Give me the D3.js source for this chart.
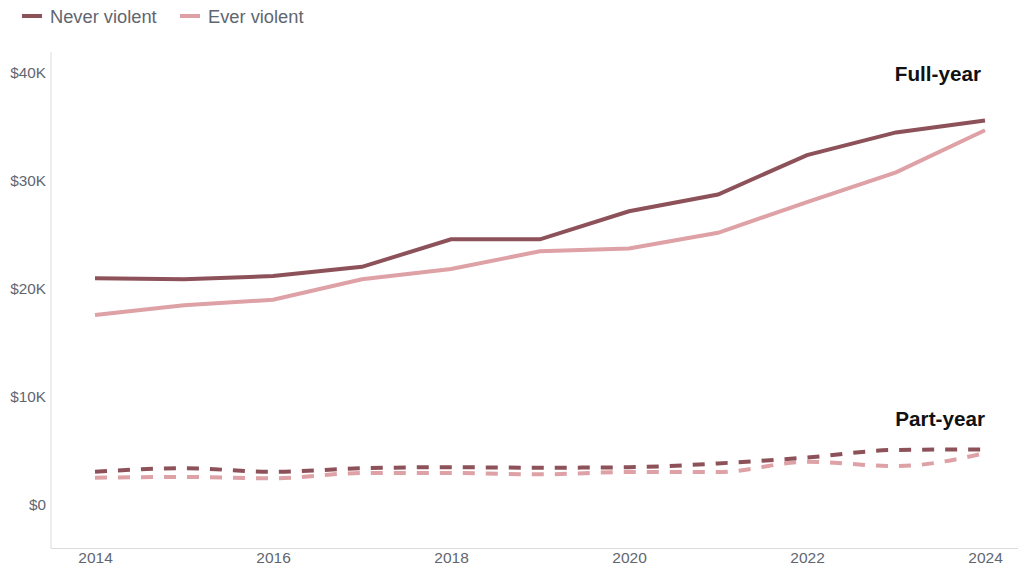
<!DOCTYPE html>
<html><head><meta charset="utf-8">
<script src="https://cdn.jsdelivr.net/npm/d3@7"></script>
<style>body{margin:0;background:#fff;font-family:"Liberation Sans",Arial,sans-serif;}</style>
</head><body><svg id="c" width="1021" height="570"></svg>
<script>
const years = [2014,2015,2016,2017,2018,2019,2020,2021,2022,2023,2024];
const fullNever = [21000,20900,21200,22050,24600,24600,27200,28750,32400,34500,35600];
const fullEver  = [17600,18500,19000,20900,21850,23500,23750,25200,28050,30800,34700];
const partNever = [3080,3400,3080,3400,3500,3450,3500,3850,4400,5100,5150];
const partEver  = [2530,2600,2470,2960,2960,2840,3050,3050,4000,3600,4800];
const yTicks = [0,10000,20000,30000,40000];
const xTicks = [2014,2016,2018,2020,2022,2024];
const seriesNames = ["Never violent","Ever violent"];
const colors = {"Never violent":"#8d5259","Ever violent":"#dea1a5"};

const svg = d3.select("#c");
const x = d3.scaleLinear().domain([2014,2024]).range([95,985]);
const y = d3.scaleLinear().domain([-4000,42000]).range([548.2,51.4]);

// axes
const yAxis = svg.append("g").attr("transform","translate(51,0)")
  .call(d3.axisLeft(y).tickValues(yTicks).tickSize(0).tickPadding(5)
    .tickFormat(d => d===0 ? "$0" : "$" + (d/1000) + "K"));
yAxis.select(".domain").attr("stroke","#dcdcdc").attr("d","M0,52V548.5");
yAxis.selectAll("text").attr("font-size",15.3).attr("fill","#5f6670").attr("font-family","Liberation Sans, Arial, sans-serif");

const xAxis = svg.append("g").attr("transform","translate(0,548.5)")
  .call(d3.axisBottom(x).tickValues(xTicks).tickSize(0).tickPadding(3).tickFormat(d3.format("d")));
xAxis.select(".domain").attr("stroke","#dcdcdc").attr("d","M51,0H1018");
xAxis.selectAll("text").attr("font-size",15.5).attr("fill","#5f6670").attr("font-family","Liberation Sans, Arial, sans-serif");

const lineLin = d3.line().x((d,i)=>x(years[i])).y(d=>y(d));
const lineCurve = d3.line().x((d,i)=>x(years[i])).y(d=>y(d)).curve(d3.curveMonotoneX);

const data = [
  {name:"Ever violent", vals: partEver, dash:true},
  {name:"Never violent", vals: partNever, dash:true},
  {name:"Ever violent", vals: fullEver, dash:false},
  {name:"Never violent", vals: fullNever, dash:false}
];
data.forEach(s=>{
  svg.append("path").attr("d", (s.dash?lineCurve:lineLin)(s.vals))
    .attr("fill","none").attr("stroke",colors[s.name]).attr("stroke-width",4)
    .attr("stroke-dasharray", s.dash ? "12,11" : null);
});

// labels
svg.append("text").attr("x",981).attr("y",81).attr("text-anchor","end")
  .attr("font-size",20.7).attr("font-weight","bold").attr("fill","#111").text("Full-year");
svg.append("text").attr("x",985).attr("y",426).attr("text-anchor","end")
  .attr("font-size",20.7).attr("font-weight","bold").attr("fill","#111").text("Part-year");

// legend
const lg = svg.append("g");
const lx = [22,180];
seriesNames.forEach((n,i)=>{
  lg.append("line").attr("x1",lx[i]).attr("x2",lx[i]+20).attr("y1",16).attr("y2",16)
    .attr("stroke",colors[n]).attr("stroke-width",4);
  lg.append("text").attr("x",lx[i]+28).attr("y",22.5).attr("font-size",18.3).attr("fill","#5f6670").text(n);
});
</script></body></html>
